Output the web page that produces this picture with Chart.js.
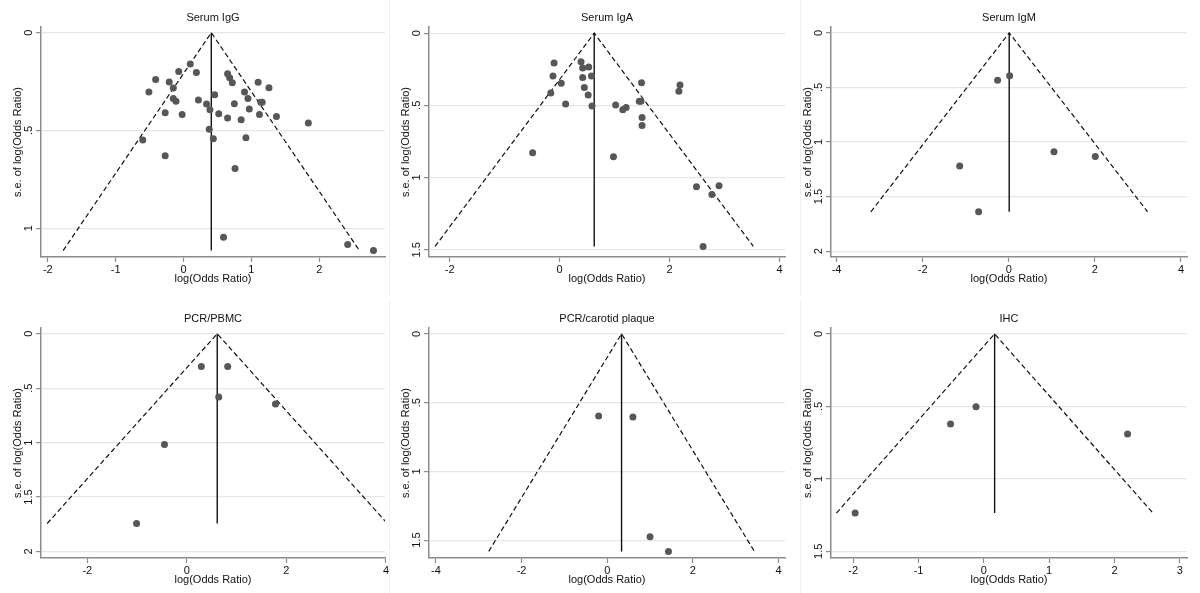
<!DOCTYPE html>
<html>
<head>
<meta charset="utf-8">
<script src="https://cdn.jsdelivr.net/npm/chart.js@4.4.0/dist/chart.umd.min.js"></script>
<style>
  html, body { margin: 0; padding: 0; background: #fff; }
  #wrap { position: relative; width: 1200px; height: 593px; overflow: hidden; }
  .panel { position: absolute; }
  .panel canvas { display: block; }
</style>
</head>
<body>
<div id="wrap"></div>
<script>
// log(Odds Ratio) and s.e. of each study
const igG_lor = [0.10, -0.07, 0.19, -0.41, -0.21, -0.15, -0.51, -0.15, -0.11, 0.22, 0.34, 0.39, 0.46, 0.52, -0.27, -0.02,
  0.65, 0.68, 0.72, 0.75, 0.65, 0.90, 0.95, 0.97, 0.85, 1.10, 1.26, 1.14, 1.16, 1.12, 1.37, 1.84, 0.38, 0.44, 0.92,
  -0.60, -0.27, 0.76, 0.59, 2.42, 2.80];
const igG_se = [0.160, 0.198, 0.204, 0.239, 0.252, 0.283, 0.303, 0.337, 0.351, 0.344, 0.365, 0.394, 0.317, 0.414, 0.409, 0.419,
  0.210, 0.230, 0.256, 0.363, 0.436, 0.303, 0.337, 0.390, 0.445, 0.254, 0.281, 0.356, 0.356, 0.419, 0.428, 0.462, 0.494, 0.543, 0.537,
  0.549, 0.629, 0.695, 1.046, 1.083, 1.114];

const igA_lor = [-0.10, -0.12, 0.03, -0.16, 0.11, 0.39, 0.42, 0.53, 0.42, 0.58, 0.45, 0.52, 0.59, -0.49, 1.02, 1.15, 1.21,
  1.45, 1.48, 1.49, 1.50, 1.50, 0.98, 2.19, 2.17, 2.49, 2.77, 2.90, 2.61];
const igA_se = [0.207, 0.297, 0.347, 0.414, 0.490, 0.198, 0.242, 0.235, 0.308, 0.297, 0.377, 0.428, 0.504, 0.828, 0.497, 0.531, 0.515,
  0.472, 0.472, 0.343, 0.584, 0.640, 0.856, 0.359, 0.403, 1.063, 1.118, 1.056, 1.477];

const igM_lor = [-0.26, 0.02, -1.14, -0.70, 1.05, 2.01];
const igM_se = [0.434, 0.394, 1.221, 1.640, 1.090, 1.133];

const pbmc_lor = [0.29, 0.82, 0.64, 1.78, -0.45, -1.01];
const pbmc_se = [0.300, 0.300, 0.581, 0.645, 1.018, 1.743];

const plaque_lor = [-0.20, 0.60, 1.00, 1.43];
const plaque_se = [0.598, 0.605, 1.476, 1.582];

const ihc_lor = [-0.51, -0.12, 2.20, -1.97];
const ihc_se = [0.622, 0.502, 0.690, 1.236];

const titles = ["Serum IgG", "Serum IgA", "Serum IgM", "PCR/PBMC", "PCR/carotid plaque", "IHC"];
const pooled = [0.41, 0.63, 0.01, 0.61, 0.335, 0.165];

const xTicks = [[-2, -1, 0, 1, 2], [-2, 0, 2, 4], [-4, -2, 0, 2, 4], [-2, 0, 2, 4], [-4, -2, 0, 2, 4], [-2, -1, 0, 1, 2, 3]];
const seTicks = [[0, 0.5, 1], [0, 0.5, 1, 1.5], [0, 0.5, 1, 1.5, 2], [0, 0.5, 1, 1.5, 2], [0, 0.5, 1, 1.5], [0, 0.5, 1, 1.5]];
const xRange = [[-2.10, 2.97], [-2.375, 4.10], [-4.13, 4.14], [-2.93, 3.98], [-4.16, 4.15], [-2.34, 3.11]];
const seRange = [[-0.028, 1.147], [-0.041, 1.55], [-0.052, 2.054], [-0.051, 2.06], [-0.041, 1.63], [-0.039, 1.546]];

const lorSets = [igG_lor, igA_lor, igM_lor, pbmc_lor, plaque_lor, ihc_lor];
const seSets = [igG_se, igA_se, igM_se, pbmc_se, plaque_se, ihc_se];

// panel geometry
const colLeft = [0, 400, 800];
const colWidth = [389, 400, 400];
const rowTop = [0, 301];
const rowHeight = [296, 292];
const plotLeft = [41, 29, 31];
const plotRight = [388, 385, 387];
const plotBottom = 257;

const FONT = "'Liberation Sans', Arial, sans-serif";
const font = { family: FONT, size: 11 };
const ink = "#111";
const axisGrey = "#8c8c8c";

const measure = document.createElement("canvas").getContext("2d");
measure.font = "11px " + FONT;

// Stata style labels: 0, .5, 1, 1.5
function seLabel(v) {
  return v === 0 ? "0" : String(v).replace(/^0\./, ".");
}

function makePanel(i) {
  const col = i % 3, row = Math.floor(i / 3);
  const w = colWidth[col], h = rowHeight[row];

  const div = document.createElement("div");
  div.className = "panel";
  div.style.left = colLeft[col] + "px";
  div.style.top = rowTop[row] + "px";
  if (col < 2) div.style.borderRight = "1px solid #efefef";
  const canvas = document.createElement("canvas");
  canvas.width = w;
  canvas.height = h;
  div.appendChild(canvas);
  document.getElementById("wrap").appendChild(div);

  const lor = lorSets[i], se = seSets[i];
  const seMax = Math.max(...se);
  const theta = pooled[i];
  const funnel = [
    { x: theta - 1.96 * seMax, y: seMax },
    { x: theta, y: 0 },
    { x: theta + 1.96 * seMax, y: seMax }
  ];
  const centre = [{ x: theta, y: 0 }, { x: theta, y: seMax }];
  const widest = Math.max(...seTicks[i].map(v => measure.measureText(seLabel(v)).width));

  new Chart(canvas, {
    type: "scatter",
    data: {
      datasets: [
        {
          data: lor.map((v, k) => ({ x: v, y: se[k] })),
          backgroundColor: "#575757",
          borderWidth: 0,
          pointRadius: 3.5
        },
        {
          data: funnel,
          showLine: true,
          borderColor: ink,
          borderWidth: 1.2,
          borderDash: [5, 3],
          pointRadius: 0
        },
        {
          data: centre,
          showLine: true,
          borderColor: ink,
          borderWidth: 1.4,
          pointRadius: 0
        }
      ]
    },
    options: {
      responsive: false,
      animation: false,
      events: [],
      layout: {
        padding: { left: plotLeft[col] - 30, right: w - plotRight[col], top: 0, bottom: h - plotBottom - 35 }
      },
      plugins: {
        legend: { display: false },
        tooltip: { enabled: false },
        title: {
          display: true,
          text: titles[i],
          fullSize: false,
          color: ink,
          font: { family: FONT, size: 11, weight: "normal" },
          padding: { top: 11.7, bottom: 2.3 }
        }
      },
      scales: {
        x: {
          type: "linear",
          min: xRange[i][0],
          max: xRange[i][1],
          afterBuildTicks: s => { s.ticks = xTicks[i].map(v => ({ value: v })); },
          afterFit: s => { s.height = 35; s.paddingLeft = 0; s.paddingRight = 0; },
          grid: { drawOnChartArea: false, tickLength: 5, tickColor: axisGrey, tickWidth: 1.2 },
          border: { color: axisGrey, width: 1.5 },
          ticks: { color: ink, font, padding: 1, maxRotation: 0, autoSkip: false, callback: v => String(v) },
          title: { display: true, text: "log(Odds Ratio)", color: ink, font, padding: { top: 0, bottom: 6.5 } }
        },
        y: {
          type: "linear",
          reverse: true,
          min: seRange[i][0],
          max: seRange[i][1],
          afterBuildTicks: s => { s.ticks = seTicks[i].map(v => ({ value: v })); },
          afterFit: s => { s.width = 30; s.paddingTop = 0; s.paddingBottom = 0; },
          grid: { color: "#e6e6e6", lineWidth: 1.2, tickLength: 5, tickColor: axisGrey, tickWidth: 1.2 },
          border: { color: axisGrey, width: 1.5 },
          ticks: {
            color: ink, font, minRotation: 90, maxRotation: 90, crossAlign: "center",
            padding: 7.5 - widest / 2, autoSkip: false, callback: v => seLabel(v)
          },
          title: { display: true, text: "s.e. of log(Odds Ratio)", color: ink, font, padding: 0 }
        }
      }
    }
  });
}

for (let i = 0; i < 6; i++) makePanel(i);
</script>
</body>
</html>
